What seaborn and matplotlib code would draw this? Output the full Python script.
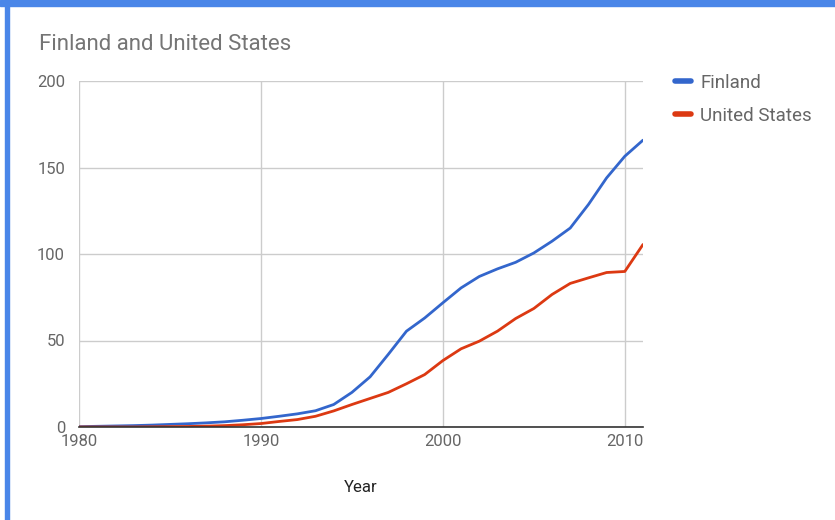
import numpy as np
import pandas as pd
import matplotlib
matplotlib.use("Agg")
import matplotlib.pyplot as plt
from matplotlib.lines import Line2D
from matplotlib.patches import Rectangle
import seaborn as sns

# Data
years = list(range(1980, 2012))
finland = [0.2, 0.4, 0.6, 0.8, 1.1, 1.5, 1.9, 2.4, 3.0, 3.9,
           4.9, 6.2, 7.6, 9.4, 13.0, 20.0, 29.0, 42.0, 55.4, 63.0,
           71.8, 80.4, 87.0, 91.4, 95.2, 100.6, 107.4, 115.0, 128.6, 144.0,
           156.5, 165.8]
united_states = [0.0, 0.0, 0.0, 0.0, 0.1, 0.2, 0.3, 0.5, 0.8, 1.3,
                 2.0, 3.2, 4.3, 6.2, 9.3, 13.0, 16.5, 20.0, 25.0, 30.3,
                 38.4, 45.2, 49.6, 55.4, 62.7, 68.5, 76.6, 83.0, 86.2, 89.3,
                 89.9, 105.5]
series_names = ["Finland", "United States"]
colors = ["#3366cc", "#dc3912"]
x_ticks = [1980, 1990, 2000, 2010]
y_ticks = [0, 50, 100, 150, 200]


def main():
    df = pd.DataFrame({
        "Year": years * 2,
        "value": finland + united_states,
        "country": [series_names[0]] * len(years) + [series_names[1]] * len(years),
    })

    sns.set_style("white")
    plt.rcParams["font.family"] = ["Roboto", "DejaVu Sans"]

    fig = plt.figure(figsize=(8.35, 5.2), dpi=100)
    ax = fig.add_axes([79 / 835, 1 - 427 / 520, (643 - 79) / 835, (427 - 81) / 520])

    sns.lineplot(data=df, x="Year", y="value", hue="country",
                 palette=dict(zip(series_names, colors)),
                 linewidth=2.0, ax=ax, legend=False, zorder=3)

    ax.set_xlim(1980, 2011)
    ax.set_ylim(0, 200)
    ax.set_xticks(x_ticks)
    ax.set_yticks(y_ticks)
    ax.grid(True, color="#cccccc", linewidth=1.0, zorder=0)
    for s in ["top", "right", "left"]:
        ax.spines[s].set_visible(False)
    ax.spines["bottom"].set_color("#333333")
    ax.spines["bottom"].set_linewidth(1.2)
    ax.spines["bottom"].set_zorder(4)
    ax.tick_params(axis="both", length=0, labelsize=12, labelcolor="#666666")
    ax.tick_params(axis="y", pad=10)
    ax.tick_params(axis="x", pad=5)

    ax.set_ylabel("")
    ax.set_xlabel("Year", fontsize=12, color="#222222", labelpad=22)

    fig.text(39 / 835, 1 - 44 / 520, "Finland and United States",
             fontsize=16, color="#757575", va="center", ha="left")

    handles = [Line2D([0], [0], color=c, linewidth=4, solid_capstyle="round")
               for c in colors]
    fig.legend(handles, series_names, loc="upper left",
               bbox_to_anchor=(658 / 835, 1 - 57 / 520), frameon=False,
               fontsize=13.5, labelcolor="#666666", handlelength=0.85,
               handletextpad=0.5, labelspacing=0.8)

    # blue screenshot frame
    fig.patches.append(Rectangle((0, 1 - 6 / 520), 1, 6 / 520, transform=fig.transFigure,
                                 color="#4a86e8", zorder=10))
    fig.patches.append(Rectangle((5 / 835, 0), 4 / 835, 1, transform=fig.transFigure,
                                 color="#4a86e8", zorder=10))

    fig.savefig("out.png", dpi=100)
    plt.close(fig)


if __name__ == "__main__":
    main()
